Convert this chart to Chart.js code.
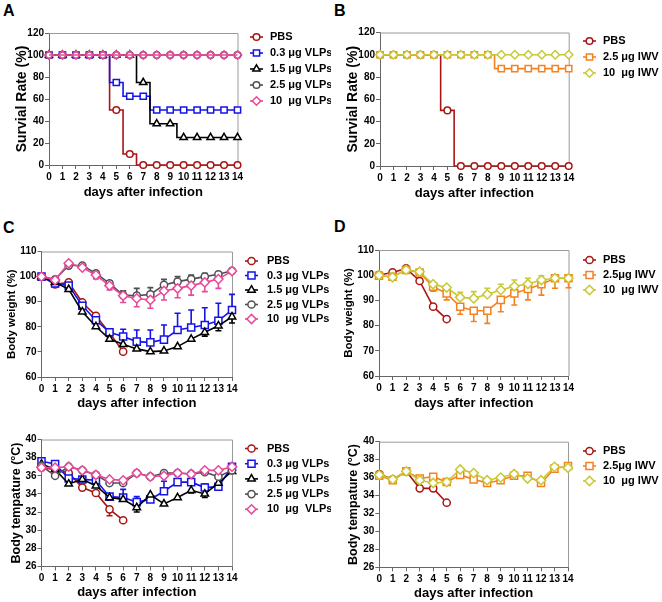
<!DOCTYPE html>
<html><head><meta charset="utf-8">
<script src="https://cdn.jsdelivr.net/npm/chart.js@4/dist/chart.umd.min.js"></script>
<style>
html,body{margin:0;padding:0;background:#fff;}
body{width:662px;height:602px;position:relative;overflow:hidden;font-family:"Liberation Sans",Arial,sans-serif;}
canvas{position:absolute;}
.lbl{position:absolute;font:bold 16px "Liberation Sans",Arial,sans-serif;line-height:16px;color:#000;}
</style></head><body>
<div class="lbl" style="left:3px;top:3px">A</div>
<div class="lbl" style="left:334px;top:3px">B</div>
<div class="lbl" style="left:3px;top:220px">C</div>
<div class="lbl" style="left:334px;top:219px">D</div>
<canvas id="cA"></canvas>
<canvas id="cB"></canvas>
<canvas id="cCw"></canvas>
<canvas id="cDw"></canvas>
<canvas id="cCt"></canvas>
<canvas id="cDt"></canvas>
<script>
const FONT = "'Liberation Sans', Arial, Helvetica, sans-serif";

// ---------- categories ----------
const days = [0,1,2,3,4,5,6,7,8,9,10,11,12,13,14];
const xTitle = 'days after infection';
const labelsVLP = ['PBS', '0.3 μg VLPs', '1.5 μg VLPs', '2.5 μg VLPs', '10  μg VLPs'];
const labelsVLPt = ['PBS', '0.3 μg VLPs', '1.5 μg VLPs', '2.5 μg VLPs', '10  μg  VLPs'];
const labelsIWV = ['PBS', '2.5 μg IWV', '10  μg IWV'];
const labelsIWV2 = ['PBS', '2.5μg IWV', '10  μg IWV'];

// ---------- A: survival (VLPs) ----------
const survA_PBS = [100,100,100,100,100,50,10,0,0,0,0,0,0,0,0];
const survA_03  = [100,100,100,100,100,75,62.5,62.5,50,50,50,50,50,50,50];
const survA_15  = [100,100,100,100,100,100,100,75,37.5,37.5,25,25,25,25,25];
const survA_25  = [100,100,100,100,100,100,100,100,100,100,100,100,100,100,100];
const survA_10  = [100,100,100,100,100,100,100,100,100,100,100,100,100,100,100];

// ---------- B: survival (IWV) ----------
const survB_PBS = [100,100,100,100,100,50,0,0,0,0,0,0,0,0,0];
const survB_25  = [100,100,100,100,100,100,100,100,100,87.5,87.5,87.5,87.5,87.5,87.5];
const survB_10  = [100,100,100,100,100,100,100,100,100,100,100,100,100,100,100];

// ---------- C: body weight (VLPs) ----------
const wC_PBS = [100,96.9,97.7,89.7,84.4,77.5,70.1];
const wC_03  = [100,97.3,96.4,88.4,82.6,77.8,76.1,74.1,73.8,74.9,78.7,79.7,80.7,82.4,86.7];
const wC_03_errUp = [0,0,0,0,0,1,2.9,4.6,4.9,5.8,6.7,7,6.9,7,6.2];
const wC_15  = [100,97.7,94.9,86,80.1,75.1,73,71.2,70.1,70.4,72.1,75.1,77.8,80.4,84];
const wC_15_errDown = [0,0,0,0,0,0,0,0,0,0,0,0.8,1.5,2,2.5];
const wC_25  = [100,98.9,104.4,104.4,101.3,97.3,92.6,92.4,92.9,96.7,98,99,100,100.9,102.3];
const wC_25_errUp = [0,0,0,0,1,0.9,1.7,2.9,2.7,2.2,2,1.6,1.3,1,0];
const wC_10  = [100,98.6,105.3,103.6,100.6,96.4,92.4,91.3,90.7,94.3,95.3,96.4,97.7,99,102.2];
const wC_10_errDown = [0,0,0,0,1.5,1.7,2.7,3.3,3.3,3.6,3.7,3.8,3.7,3.7,0];

// ---------- D: body weight (IWV) ----------
const wD_PBS = [100.1,101.1,102.7,97.7,87.5,82.6];
const wD_25  = [99.8,99.4,102.1,101.1,95.4,92.8,87.5,85.9,85.9,90.2,92.8,94.5,96.4,98.8,98.8];
const wD_25_errDown = [0,0,0,0,1.7,2.6,3,4.3,5,4.7,4.6,4.3,4.3,4,3.8];
const wD_10  = [100,99.2,102.1,101.4,96.4,95.1,91.2,90.8,92.4,94.1,95.6,96.5,98.1,98.8,98.8];
const wD_10_errUp = [0,0,0,0,1,0.8,2,2.7,2.4,2.3,2.5,2.3,1.7,0,0];

// ---------- C: body temperature (VLPs) ----------
const tC_PBS = [36.9,36.7,36.3,34.7,34.1,32.3,31.1];
const tC_PBS_errDown = [0,0,0,0,0,0.7,0];
const tC_03  = [37.6,37.3,35.7,35.6,35.5,33.7,33.6,33.1,33.4,34.3,35.3,35.3,34.7,34.8,37];
const tC_03_errUp = [0,0,0,0,0,0.3,0.9,0.6,0,1.1,0,0,0.4,0,0];
const tC_15  = [37.3,36.7,35.1,35.6,34.9,33.6,33.4,32.5,33.9,32.9,33.6,34.4,34,35.2,36.5];
const tC_15_errDown = [0,0,0,0,0,0,0,0.5,0,0,0,0.3,0.4,0,0];
const tC_25  = [37.1,36,37,36.6,36.1,35.2,35.2,36.3,35.9,36.3,36.3,36.2,36.4,35.9,36.6];
const tC_10  = [36.9,36.9,37,36.6,36.1,35.6,35.5,36.3,35.9,36,36.3,36.2,36.6,36.6,37];

// ---------- D: body temperature (IWV) ----------
const tD_PBS = [36.4,35.8,36.7,34.8,34.8,33.2];
const tD_25  = [36.2,35.7,36.7,35.9,36.1,35.5,36.3,35.8,35.4,35.7,36.2,36.2,35.4,37,37.3];
const tD_10  = [36.3,35.8,36.7,35.7,35.4,35.5,36.9,36.5,35.7,36,36.4,35.9,35.7,37.2,37.1];

// ---------- styles ----------
const COL = {pbs:'#A91414', v03:'#1414E6', v15:'#000000', v25:'#505050', v10:'#E8489A', i25:'#F58220', i10:'#C9C935'};

function pts(vals){ return vals.map((v,i)=>({x:days[i], y:v})); }
function mk(label, vals, color, style, r, extra){
  return Object.assign({label, data:pts(vals), borderColor:color, backgroundColor:'#fff',
    borderWidth:1.6, pointStyle:style, pointRadius:r, pointHoverRadius:r, pointBorderWidth:1.5,
    pointBackgroundColor:'#fff', pointBorderColor:color, tension:0, clip:false}, extra||{});
}
function ordered(list){ const n=list.length; list.forEach((d,i)=>d.order=n-i); return list; }

const frame = {id:'frame', beforeDatasetsDraw(chart){
  const {ctx, chartArea:a} = chart; ctx.save(); ctx.strokeStyle='#9a9a9a'; ctx.lineWidth=1;
  ctx.beginPath(); ctx.moveTo(a.left, a.top+0.5); ctx.lineTo(a.right+0.5, a.top+0.5); ctx.lineTo(a.right+0.5, a.bottom); ctx.stroke(); ctx.restore();
}};
const errorBars = {id:'errorBars', beforeDatasetsDraw(chart){
  const ctx = chart.ctx, ys = chart.scales.y;
  chart.data.datasets.forEach((ds,i)=>{
    const meta = chart.getDatasetMeta(i);
    [['errUp',1],['errDown',-1]].forEach(([k,sign])=>{
      const arr = ds[k]; if(!arr) return;
      ctx.save(); ctx.strokeStyle = ds.borderColor; ctx.lineWidth = 1.6;
      arr.forEach((e,j)=>{
        if(!e || !meta.data[j]) return;
        const p = meta.data[j];
        const yA = ys.getPixelForValue(ds.data[j].y), yB = ys.getPixelForValue(ds.data[j].y + sign*e);
        ctx.beginPath(); ctx.moveTo(p.x, yA); ctx.lineTo(p.x, yB);
        ctx.moveTo(p.x-3, yB); ctx.lineTo(p.x+3, yB); ctx.stroke();
      });
      ctx.restore();
    });
  });
}};
const legendPlugin = {id:'customLegend', afterDraw(chart, args, o){
  const ctx = chart.ctx;
  chart.data.datasets.forEach((ds,i)=>{
    const y = o.y + i*o.dy;
    ctx.save();
    ctx.strokeStyle = ds.borderColor; ctx.lineWidth = ds.borderWidth;
    ctx.beginPath(); ctx.moveTo(o.x, y); ctx.lineTo(o.x+o.len, y); ctx.stroke();
    ctx.fillStyle = '#fff'; ctx.lineWidth = ds.pointBorderWidth;
    Chart.helpers.drawPoint(ctx, {pointStyle:ds.pointStyle, radius:ds.pointRadius, rotation:0, borderWidth:ds.pointBorderWidth}, o.x+o.len/2, y);
    ctx.fillStyle = '#000'; ctx.font = 'bold 11px ' + FONT; ctx.textBaseline = 'middle'; ctx.textAlign = 'left';
    ctx.fillText(ds.label, o.tx, y);
    ctx.restore();
  });
}};

function makeChart(id, P){
  const y0 = Math.floor(P.T - 15);
  const ch = Math.ceil(P.xty + 10) - y0;
  const cv = document.getElementById(id);
  cv.width = 331; cv.height = ch; cv.style.width='331px'; cv.style.height=ch+'px';
  cv.style.left = P.x0 + 'px'; cv.style.top = y0 + 'px';
  const xH = (y0 + ch) - P.B;
  const yW = P.L - P.x0;
  const lhX = 13*1.2, lhY = P.ySize*1.2;
  const tickFont = {family:FONT, size:10, weight:'bold'};
  new Chart(cv, {
    type:'line',
    data:{datasets:P.datasets},
    plugins:[frame, errorBars, legendPlugin],
    options:{
      responsive:false, animation:false, events:[], devicePixelRatio:1,
      layout:{padding:{left:0, top:P.T - y0, right:P.x0 + 331 - P.R, bottom:0}},
      plugins:{legend:{display:false}, tooltip:{enabled:false},
        customLegend:{x:P.lgX - P.x0, tx:P.lgT - P.x0, y:P.lgY - y0, dy:P.lgDy, len:13}},
      scales:{
        x:{type:'linear', min:0, max:14, afterFit:s=>{s.height = xH;},
          ticks:{stepSize:1, autoSkip:false, maxRotation:0, padding:2, color:'#000', font:tickFont},
          grid:{drawOnChartArea:false, drawTicks:true, tickLength:4, color:'#666'},
          border:{display:true, color:'#666', width:1},
          title:{display:true, text:xTitle, color:'#000', font:{family:FONT, size:13, weight:'bold'},
            padding:{top:0, bottom: ch - lhX/2 - (P.xty - y0)}}},
        y:{type:'linear', min:P.yMin, max:P.yMax, afterFit:s=>{s.width = yW;},
          ticks:{stepSize:P.yStep, padding:1, color:'#000', font:tickFont},
          grid:{drawOnChartArea:false, drawTicks:true, tickLength:4, color:'#666'},
          border:{display:true, color:'#666', width:1},
          title:{display:true, text:P.yTitle, color:'#000', font:{family:FONT, size:P.ySize, weight:'bold'},
            padding:{top: P.ytx - P.x0 - lhY/2, bottom:0}}}
      }
    }
  });
}

const st = {stepped:'middle'};
makeChart('cA', {x0:0, L:49, R:237.5, T:33, B:165, ytx:22, xty:192, ySize:14, yTitle:'Survial Rate (%)',
  yMin:0, yMax:120, yStep:20, lgX:250, lgT:270, lgY:37, lgDy:16,
  datasets: ordered([
    mk(labelsVLP[0], survA_PBS, COL.pbs, 'circle', 3.3, st),
    mk(labelsVLP[1], survA_03, COL.v03, 'rect', 4.4, st),
    mk(labelsVLP[2], survA_15, COL.v15, 'triangle', 4.2, st),
    mk(labelsVLP[3], survA_25, COL.v25, 'circle', 3.3, st),
    mk(labelsVLP[4], survA_10, COL.v10, 'rectRot', 4.2, Object.assign({pointBackgroundColor:'rgba(255,255,255,0)'}, st))])});

makeChart('cB', {x0:331, L:380, R:568.7, T:32.5, B:166, ytx:353.5, xty:193, ySize:14, yTitle:'Survial Rate (%)',
  yMin:0, yMax:120, yStep:20, lgX:583, lgT:603, lgY:41, lgDy:16,
  datasets: ordered([
    mk(labelsIWV[0], survB_PBS, COL.pbs, 'circle', 3.3, st),
    mk(labelsIWV[1], survB_25, COL.i25, 'rect', 4.4, st),
    mk(labelsIWV[2], survB_10, COL.i10, 'rectRot', 4.2, st)])});

makeChart('cCw', {x0:0, L:41.5, R:232, T:251.5, B:377, ytx:12, xty:403, ySize:11.5, yTitle:'Body weight (%)',
  yMin:60, yMax:110, yStep:10, lgX:245, lgT:267, lgY:261, lgDy:14.5,
  datasets: ordered([
    mk(labelsVLP[0], wC_PBS, COL.pbs, 'circle', 3.6),
    mk(labelsVLP[1], wC_03, COL.v03, 'rect', 5, {errUp:wC_03_errUp}),
    mk(labelsVLP[2], wC_15, COL.v15, 'triangle', 4.3, {errDown:wC_15_errDown}),
    mk(labelsVLP[3], wC_25, COL.v25, 'circle', 3.6, {errUp:wC_25_errUp}),
    mk(labelsVLP[4], wC_10, COL.v10, 'rectRot', 4.6, {errDown:wC_10_errDown})])});

makeChart('cDw', {x0:331, L:379, R:568.5, T:250, B:376, ytx:349, xty:403, ySize:11.5, yTitle:'Body weight (%)',
  yMin:60, yMax:110, yStep:10, lgX:583, lgT:603, lgY:260, lgDy:15,
  datasets: ordered([
    mk(labelsIWV2[0], wD_PBS, COL.pbs, 'circle', 3.6),
    mk(labelsIWV2[1], wD_25, COL.i25, 'rect', 5, {errDown:wD_25_errDown}),
    mk(labelsIWV2[2], wD_10, COL.i10, 'rectRot', 4.6, {errUp:wD_10_errUp})])});

makeChart('cCt', {x0:0, L:41.5, R:232, T:439.5, B:566.5, ytx:17, xty:592, ySize:12.5, yTitle:'Body tempature (°C)',
  yMin:26, yMax:40, yStep:2, lgX:245, lgT:267, lgY:448.5, lgDy:15.2,
  datasets: ordered([
    mk(labelsVLPt[0], tC_PBS, COL.pbs, 'circle', 3.6, {errDown:tC_PBS_errDown}),
    mk(labelsVLPt[1], tC_03, COL.v03, 'rect', 5, {errUp:tC_03_errUp}),
    mk(labelsVLPt[2], tC_15, COL.v15, 'triangle', 4.3, {errDown:tC_15_errDown}),
    mk(labelsVLPt[3], tC_25, COL.v25, 'circle', 3.6),
    mk(labelsVLPt[4], tC_10, COL.v10, 'rectRot', 4.6)])});

makeChart('cDt', {x0:331, L:379.3, R:568, T:441.7, B:567.3, ytx:354, xty:593, ySize:12.5, yTitle:'Body tempature (°C)',
  yMin:26, yMax:40, yStep:2, lgX:583, lgT:603, lgY:451, lgDy:15,
  datasets: ordered([
    mk(labelsIWV2[0], tD_PBS, COL.pbs, 'circle', 3.6),
    mk(labelsIWV2[1], tD_25, COL.i25, 'rect', 5),
    mk(labelsIWV2[2], tD_10, COL.i10, 'rectRot', 4.6)])});
</script>
</body></html>
